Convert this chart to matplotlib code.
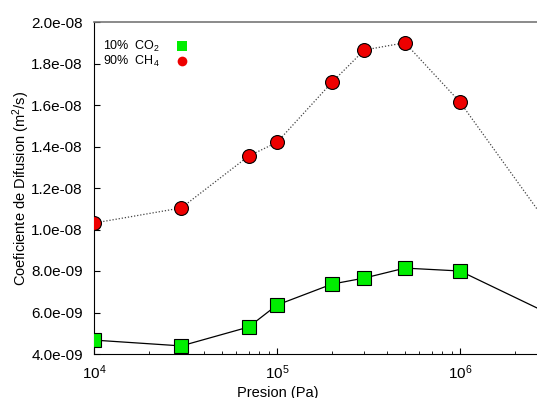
import matplotlib
matplotlib.use("Agg")
import matplotlib.pyplot as plt
from matplotlib.ticker import FormatStrFormatter, LogLocator
import numpy as np

# pressure (Pa)
pressure = [1e4, 3e4, 7e4, 1e5, 2e5, 3e5, 5e5, 1e6, 3e6]
# diffusion coefficient (m^2/s)
d_co2 = [4.67e-9, 4.39e-9, 5.30e-9, 6.36e-9, 7.37e-9, 7.66e-9, 8.14e-9, 8.00e-9, 5.98e-9]
d_ch4 = [1.031e-8, 1.104e-8, 1.354e-8, 1.420e-8, 1.710e-8, 1.865e-8, 1.900e-8, 1.614e-8, 1.03e-8]
yticks = [4e-9, 6e-9, 8e-9, 1.0e-8, 1.2e-8, 1.4e-8, 1.6e-8, 1.8e-8, 2.0e-8]

plt.rcParams["font.family"] = ["Liberation Sans", "DejaVu Sans"]
plt.rcParams["mathtext.fontset"] = "custom"
plt.rcParams["mathtext.rm"] = "Liberation Sans"
plt.rcParams["mathtext.it"] = "Liberation Sans:italic"

fig = plt.figure(figsize=(5.37, 3.98), dpi=100)
ax = fig.add_axes([94 / 537, 44 / 398, 443 / 537, 332 / 398])

ax.plot(pressure, d_co2, color="black", lw=0.9, marker="s", ms=9.5,
        mfc="#00ee00", mec="black", mew=0.8, label="10%  CO$_2$", zorder=3)
ax.plot(pressure, d_ch4, color="#444444", lw=0.9, ls=(0, (1, 1.5)), marker="o", ms=10,
        mfc="#ee0000", mec="black", mew=0.8, label="90%  CH$_4$", zorder=3)

ax.set_xscale("log")
ax.set_xlim(1e4, 10 ** (6 + 77 / 183))
ax.set_ylim(4e-9, 2e-8)
ax.set_yticks(yticks)
ax.yaxis.set_major_formatter(FormatStrFormatter("%.1e"))
ax.xaxis.set_major_locator(LogLocator(base=10, numticks=10))
ax.xaxis.set_minor_locator(LogLocator(base=10, subs=np.arange(2, 10), numticks=10))

ax.tick_params(which="both", direction="in", labelsize=11, top=False, right=False)
ax.tick_params(which="major", length=4, width=0.8)
ax.tick_params(which="minor", length=2.5, width=0.6)
ax.tick_params(axis="x", pad=7)
ax.tick_params(axis="y", pad=8)

ax.spines["right"].set_visible(False)
ax.spines["top"].set_color("#777777")
ax.spines["top"].set_linewidth(1.2)

ax.set_xlabel("Presion (Pa)", fontsize=10.5)
ax.xaxis.set_label_coords(0.415, -0.095)
ax.set_ylabel("Coeficiente de Difusion (m$^2$/s)", fontsize=10.5)
ax.yaxis.set_label_coords(-0.14, 0.5)

leg = ax.legend(loc="upper left", bbox_to_anchor=(0.0, 0.975), frameon=False, markerfirst=False,
                fontsize=9, handlelength=1.2, handletextpad=1.2, labelspacing=0.0,
                borderaxespad=0.3)
for h in leg.legend_handles:
    h.set_linestyle("none")
    h.set_markersize(7)
    h.set_markeredgewidth(0)

fig.savefig("out.png", dpi=100)
